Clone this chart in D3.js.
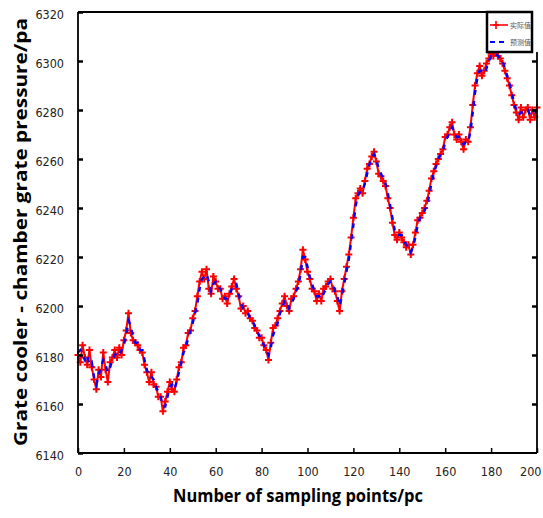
<!DOCTYPE html>
<html>
<head>
<meta charset="utf-8">
<script src="https://cdn.jsdelivr.net/npm/d3@7/dist/d3.min.js"></script>
<style>
  html, body { margin: 0; padding: 0; background: #fff; }
  svg { display: block; }
</style>
</head>
<body>
<svg id="chart" width="543" height="518"></svg>
<script>
// Grate cooler chamber pressure: measured vs. predicted over 200 sampling points
const actual = [
  6180, 6177, 6184, 6179, 6176, 6182, 6175, 6170, 6166, 6174,
  6171, 6181, 6174, 6169, 6177, 6179, 6182, 6179, 6183, 6180,
  6186, 6190, 6197, 6189, 6186, 6185, 6184, 6182, 6181, 6176,
  6173, 6169, 6173, 6168, 6167, 6163, 6163, 6157, 6161, 6165,
  6169, 6166, 6165, 6170, 6175, 6177, 6183, 6184, 6189, 6190,
  6195, 6198, 6204, 6210, 6214, 6211, 6215, 6207, 6205, 6212,
  6210, 6207, 6207, 6203, 6204, 6201, 6205, 6208, 6211, 6207,
  6204, 6199, 6200, 6197, 6198, 6195, 6194, 6191, 6190, 6187,
  6187, 6184, 6182, 6178, 6185, 6191, 6192, 6195, 6198, 6201,
  6204, 6200, 6198, 6203, 6204, 6207, 6210, 6215, 6223, 6219,
  6214, 6211, 6207, 6206, 6202, 6205, 6202, 6207, 6208, 6210,
  6211, 6207, 6206, 6202, 6198, 6206, 6211, 6216, 6221, 6228,
  6236, 6244, 6246, 6248, 6246, 6251, 6256, 6258, 6261, 6263,
  6259, 6254, 6253, 6251, 6249, 6244, 6240, 6234, 6229, 6227,
  6230, 6228, 6226, 6224, 6225, 6221, 6225, 6230, 6235, 6236,
  6238, 6240, 6243, 6247, 6252, 6255, 6258, 6260, 6262, 6264,
  6269, 6270, 6273, 6275, 6270, 6268, 6270, 6267, 6264, 6268,
  6267, 6273, 6282, 6290, 6295, 6298, 6294, 6296, 6299, 6301,
  6303, 6302, 6304, 6302, 6301, 6299, 6296, 6293, 6290, 6286,
  6282, 6279, 6276, 6281, 6277, 6280, 6281, 6276, 6280, 6277,
  6281
];
const predicted = [
  6181, 6182, 6180, 6178, 6180, 6176, 6177, 6171, 6168, 6172,
  6175, 6178, 6176, 6173, 6175, 6178, 6180, 6181, 6180, 6182,
  6184, 6188, 6194, 6192, 6187, 6185, 6185, 6182, 6182, 6178,
  6174, 6171, 6171, 6170, 6167, 6165, 6163, 6159, 6159, 6163,
  6167, 6168, 6166, 6169, 6173, 6177, 6181, 6183, 6187, 6190,
  6193, 6197, 6201, 6207, 6211, 6212, 6213, 6210, 6206, 6209,
  6210, 6208, 6207, 6205, 6203, 6203, 6204, 6207, 6209, 6209,
  6205, 6201, 6199, 6198, 6197, 6195, 6194, 6192, 6190, 6188,
  6186, 6184, 6182, 6180, 6183, 6188, 6191, 6193, 6197, 6199,
  6202, 6202, 6199, 6201, 6203, 6206, 6208, 6213, 6220, 6220,
  6216, 6212, 6209, 6206, 6204, 6204, 6203, 6205, 6207, 6209,
  6210, 6209, 6206, 6204, 6200, 6204, 6209, 6214, 6219, 6226,
  6233, 6241, 6245, 6247, 6247, 6250, 6254, 6258, 6260, 6262,
  6260, 6256, 6254, 6252, 6250, 6246, 6241, 6236, 6231, 6229,
  6229, 6229, 6227, 6225, 6224, 6222, 6224, 6228, 6233, 6236,
  6237, 6239, 6241, 6245, 6250, 6254, 6257, 6260, 6262, 6263,
  6267, 6269, 6271, 6273, 6271, 6269, 6269, 6268, 6266, 6267,
  6267, 6271, 6279, 6287, 6293, 6296, 6296, 6295, 6297, 6300,
  6302, 6302, 6303, 6302, 6301, 6300, 6297, 6294, 6291, 6287,
  6283, 6280, 6278, 6279, 6279, 6279, 6280, 6278, 6279, 6279,
  6280
];
const xTicks = [0, 20, 40, 60, 80, 100, 120, 140, 160, 180, 200];
const yTicks = [6140, 6160, 6180, 6200, 6220, 6240, 6260, 6280, 6300, 6320];
const legendLabels = ["实际值", "预测值"];
const xTitle = "Number of sampling points/pc";
const yTitle = "Grate cooler - chamber grate pressure/pa";

const svg = d3.select("#chart");
const plot = { left: 78, right: 537, top: 12, bottom: 453 };
const legendBox = { x0: 487, x1: 532, y0: 12, y1: 52 };

const x = d3.scaleLinear().domain([0, 200]).range([plot.left, plot.right]);
const y = d3.scaleLinear().domain([6140, 6320]).range([plot.bottom, plot.top]);

const tickFont = "'DejaVu Sans Condensed', 'Liberation Sans Narrow', 'Liberation Sans', sans-serif";
const titleFont = "'Open Sans', 'DejaVu Sans', sans-serif";

// Series lines
const line = d3.line().x((d, i) => x(i)).y(d => y(d));

svg.append("path")
  .datum(actual)
  .attr("d", line)
  .attr("fill", "none")
  .attr("stroke", "#ff0000")
  .attr("stroke-width", 2);

// "+" markers on the measured series
const cross = 3.5;
svg.append("g")
  .selectAll("path")
  .data(actual)
  .join("path")
  .attr("d", (d, i) => {
    const cx = x(i), cy = y(d);
    return `M${cx - cross},${cy}H${cx + cross}M${cx},${cy - cross}V${cy + cross}`;
  })
  .attr("stroke", "#ff0000")
  .attr("stroke-width", 2)
  .attr("fill", "none");

svg.append("path")
  .datum(predicted)
  .attr("d", line)
  .attr("fill", "none")
  .attr("stroke", "#0000ff")
  .attr("stroke-width", 2.4)
  .attr("stroke-dasharray", "5,6");

// Frame
const frame = svg.append("g").attr("stroke", "#000").attr("stroke-width", 1.8).attr("fill", "none");
frame.append("line").attr("x1", plot.left).attr("x2", plot.left).attr("y1", plot.top).attr("y2", plot.bottom);
frame.append("line").attr("x1", plot.left).attr("x2", plot.right).attr("y1", plot.bottom).attr("y2", plot.bottom);
frame.append("line").attr("x1", plot.left).attr("x2", legendBox.x0).attr("y1", plot.top).attr("y2", plot.top);
frame.append("line").attr("x1", plot.right).attr("x2", plot.right).attr("y1", legendBox.y1).attr("y2", plot.bottom);

// Bottom axis: inward ticks
const xAxis = svg.append("g")
  .attr("transform", `translate(0,${plot.bottom})`)
  .call(d3.axisBottom(x).tickValues(xTicks).tickFormat(d3.format("d"))
    .tickSizeInner(-5).tickSizeOuter(0).tickPadding(14));
xAxis.select(".domain").remove();
xAxis.selectAll(".tick line").attr("stroke", "#000").attr("stroke-width", 1.5);
xAxis.selectAll(".tick text")
  .attr("font-family", tickFont).attr("font-size", 12.5).attr("fill", "#222");
// keep the last label inside the page edge
xAxis.selectAll(".tick text").filter(d => d === 200)
  .attr("text-anchor", "end").attr("dx", 4);

// Left axis: inward ticks
const yAxis = svg.append("g")
  .attr("transform", `translate(${plot.left},0)`)
  .call(d3.axisLeft(y).tickValues(yTicks).tickFormat(d3.format("d"))
    .tickSizeInner(-5).tickSizeOuter(0).tickPadding(14));
yAxis.select(".domain").remove();
yAxis.selectAll(".tick line").attr("stroke", "#000").attr("stroke-width", 2.5);
yAxis.selectAll(".tick text")
  .attr("font-family", tickFont).attr("font-size", 12.5).attr("fill", "#222").attr("dy", "0.5em");

// Right side ticks below the legend
const rTicks = svg.append("g")
  .attr("transform", `translate(${plot.right},0)`)
  .call(d3.axisRight(y).tickValues(yTicks.filter(v => y(v) > legendBox.y1 && v > 6140))
    .tickSizeInner(-5).tickSizeOuter(0).tickFormat(""));
rTicks.select(".domain").remove();
rTicks.selectAll(".tick line").attr("stroke", "#000").attr("stroke-width", 2.5);

// Axis titles
svg.append("text")
  .attr("x", 298).attr("y", 502)
  .attr("text-anchor", "middle")
  .attr("font-family", titleFont).attr("font-weight", "bold").attr("font-size", 17)
  .attr("textLength", 250).attr("lengthAdjust", "spacingAndGlyphs")
  .attr("fill", "#000")
  .text(xTitle);

svg.append("text")
  .attr("transform", "translate(27,232) rotate(-90)")
  .attr("text-anchor", "middle")
  .attr("font-family", titleFont).attr("font-weight", "bold").attr("font-size", 17)
  .attr("textLength", 428).attr("lengthAdjust", "spacingAndGlyphs")
  .attr("fill", "#000")
  .text(yTitle);

// Legend
const legend = svg.append("g");
legend.append("rect")
  .attr("x", legendBox.x0).attr("y", legendBox.y0)
  .attr("width", legendBox.x1 - legendBox.x0).attr("height", legendBox.y1 - legendBox.y0)
  .attr("fill", "#fff").attr("stroke", "#000").attr("stroke-width", 2.5);

const legendRows = [
  { label: legendLabels[0], color: "#ff0000", dash: null, marker: true, yy: 25 },
  { label: legendLabels[1], color: "#0000ff", dash: "5,4", marker: false, yy: 42 }
];
legendRows.forEach(r => {
  legend.append("line")
    .attr("x1", 490).attr("x2", 508).attr("y1", r.yy).attr("y2", r.yy)
    .attr("stroke", r.color).attr("stroke-width", r.marker ? 1.6 : 2)
    .attr("stroke-dasharray", r.dash);
  if (r.marker) {
    legend.append("path")
      .attr("d", `M496,${r.yy - 4}V${r.yy + 4}M493,${r.yy}H499`)
      .attr("stroke", r.color).attr("stroke-width", 1.6);
  }
  legend.append("text")
    .attr("x", 510).attr("y", r.yy + 3)
    .attr("font-family", "'Noto Sans CJK SC', sans-serif").attr("font-size", 7)
    .attr("fill", "#555")
    .text(r.label);
});
</script>
</body>
</html>
